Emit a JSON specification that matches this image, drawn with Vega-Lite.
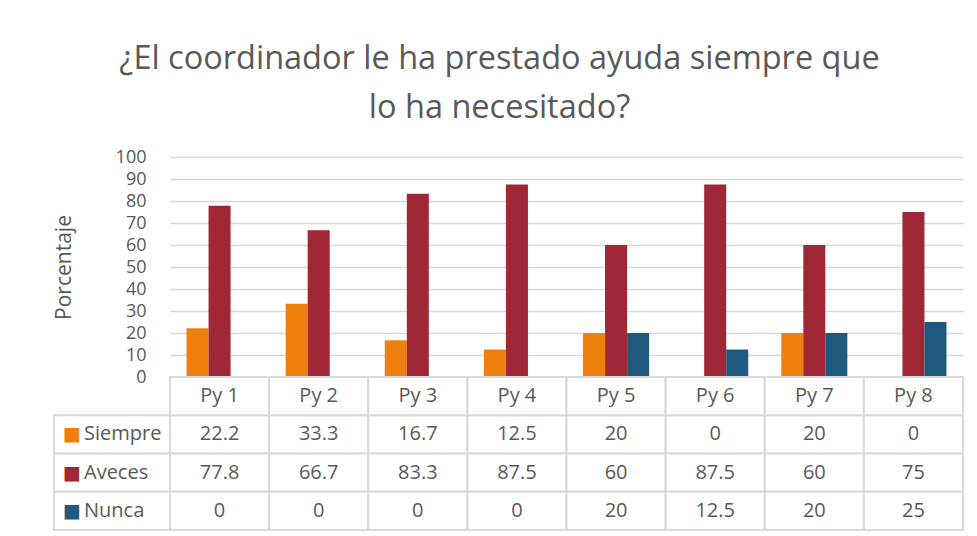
{
  "$schema": "https://vega.github.io/schema/vega-lite/v6.json",
  "padding": {"left": 53, "top": 42, "right": 10, "bottom": 4},
  "background": "white",
  "title": {
    "text": ["¿El coordinador le ha prestado ayuda siempre que", "lo ha necesitado?"],
    "font": "Open Sans",
    "fontSize": 32.5,
    "fontWeight": "normal",
    "color": "#595959",
    "anchor": "middle",
    "lineHeight": 49,
    "offset": 24,
    "dx": -9
  },
  "datasets": {
    "main": [
      {"cat": "Py 1", "serie": "Siempre", "value": 22.2},
      {"cat": "Py 1", "serie": "Aveces", "value": 77.8},
      {"cat": "Py 1", "serie": "Nunca", "value": 0},
      {"cat": "Py 2", "serie": "Siempre", "value": 33.3},
      {"cat": "Py 2", "serie": "Aveces", "value": 66.7},
      {"cat": "Py 2", "serie": "Nunca", "value": 0},
      {"cat": "Py 3", "serie": "Siempre", "value": 16.7},
      {"cat": "Py 3", "serie": "Aveces", "value": 83.3},
      {"cat": "Py 3", "serie": "Nunca", "value": 0},
      {"cat": "Py 4", "serie": "Siempre", "value": 12.5},
      {"cat": "Py 4", "serie": "Aveces", "value": 87.5},
      {"cat": "Py 4", "serie": "Nunca", "value": 0},
      {"cat": "Py 5", "serie": "Siempre", "value": 20},
      {"cat": "Py 5", "serie": "Aveces", "value": 60},
      {"cat": "Py 5", "serie": "Nunca", "value": 20},
      {"cat": "Py 6", "serie": "Siempre", "value": 0},
      {"cat": "Py 6", "serie": "Aveces", "value": 87.5},
      {"cat": "Py 6", "serie": "Nunca", "value": 12.5},
      {"cat": "Py 7", "serie": "Siempre", "value": 20},
      {"cat": "Py 7", "serie": "Aveces", "value": 60},
      {"cat": "Py 7", "serie": "Nunca", "value": 20},
      {"cat": "Py 8", "serie": "Siempre", "value": 0},
      {"cat": "Py 8", "serie": "Aveces", "value": 75},
      {"cat": "Py 8", "serie": "Nunca", "value": 25}
    ],
    "cats": [
      {"cat": "Py 1"}, {"cat": "Py 2"}, {"cat": "Py 3"}, {"cat": "Py 4"},
      {"cat": "Py 5"}, {"cat": "Py 6"}, {"cat": "Py 7"}, {"cat": "Py 8"}
    ],
    "series": [
      {"serie": "Siempre"}, {"serie": "Aveces"}, {"serie": "Nunca"}
    ]
  },
  "columns": 2,
  "spacing": 0,
  "bounds": "flush",
  "resolve": {"scale": {"x": "independent", "y": "independent"}},
  "concat": [
    {
      "width": 116,
      "height": 220,
      "data": {"values": [{}]},
      "mark": {"type": "text", "text": ""},
      "encoding": {}
    },
    {
      "width": 793,
      "height": 220,
      "data": {"name": "main"},
      "mark": {"type": "bar"},
      "encoding": {
        "x": {
          "field": "cat",
          "type": "nominal",
          "sort": null,
          "axis": null,
          "scale": {"paddingInner": 0.3333, "paddingOuter": 0.1667}
        },
        "xOffset": {
          "field": "serie",
          "type": "nominal",
          "sort": ["Siempre", "Aveces", "Nunca"],
          "scale": {"domain": ["Siempre", "Aveces", "Nunca"], "paddingInner": 0, "paddingOuter": 0}
        },
        "y": {
          "field": "value",
          "type": "quantitative",
          "scale": {"domain": [0, 100], "nice": false},
          "axis": {
            "values": [0, 10, 20, 30, 40, 50, 60, 70, 80, 90, 100],
            "title": "Porcentaje",
            "titleFont": "Open Sans",
            "titleFontSize": 21,
            "titleFontWeight": "normal",
            "titleColor": "#595959",
            "titlePadding": 41,
            "labelFont": "Open Sans",
            "labelFontSize": 18,
            "labelColor": "#595959",
            "labelPadding": 24,
            "ticks": false,
            "domain": false,
            "gridColor": "#D9D9D9",
            "gridWidth": 1.5
          }
        },
        "color": {
          "field": "serie",
          "type": "nominal",
          "legend": null,
          "scale": {"domain": ["Siempre", "Aveces", "Nunca"], "range": ["#F0800E", "#A02836", "#1F5A7E"]}
        }
      }
    },
    {
      "width": 116,
      "height": 153,
      "data": {"name": "series"},
      "encoding": {
        "y": {
          "field": "serie",
          "type": "nominal",
          "axis": null,
          "scale": {"domain": ["hdr", "Siempre", "Aveces", "Nunca"], "paddingInner": 0, "paddingOuter": 0}
        }
      },
      "layer": [
        {
          "mark": {"type": "rect", "fill": "white", "stroke": "#D9D9D9", "strokeWidth": 2}
        },
        {
          "mark": {"type": "text", "text": "■", "font": "DejaVu Sans", "fontSize": 19, "align": "center", "dx": -40, "baseline": "middle"},
          "encoding": {
            "color": {
              "field": "serie",
              "type": "nominal",
              "legend": null,
              "scale": {"domain": ["Siempre", "Aveces", "Nunca"], "range": ["#F0800E", "#A02836", "#1F5A7E"]}
            }
          }
        },
        {
          "mark": {"type": "text", "font": "Open Sans", "fontSize": 20, "color": "#595959", "align": "left", "dx": -28, "baseline": "middle"},
          "encoding": {"text": {"field": "serie", "type": "nominal"}}
        }
      ]
    },
    {
      "width": 793,
      "height": 153,
      "encoding": {
        "x": {"field": "cat", "type": "nominal", "sort": null, "axis": null, "scale": {"domain": ["Py 1", "Py 2", "Py 3", "Py 4", "Py 5", "Py 6", "Py 7", "Py 8"], "paddingInner": 0, "paddingOuter": 0}},
        "y": {"field": "serie", "type": "nominal", "axis": null, "scale": {"domain": ["hdr", "Siempre", "Aveces", "Nunca"], "paddingInner": 0, "paddingOuter": 0}}
      },
      "layer": [
        {
          "data": {"name": "main"},
          "mark": {"type": "rect", "fill": "white", "stroke": "#D9D9D9", "strokeWidth": 2}
        },
        {
          "data": {"name": "cats"},
          "mark": {"type": "rect", "fill": "white", "stroke": "#D9D9D9", "strokeWidth": 2},
          "encoding": {"y": {"datum": "hdr", "type": "nominal"}}
        },
        {
          "data": {"name": "main"},
          "mark": {"type": "text", "font": "Open Sans", "fontSize": 20, "color": "#595959", "baseline": "middle"},
          "encoding": {"text": {"field": "value", "type": "quantitative"}}
        },
        {
          "data": {"name": "cats"},
          "mark": {"type": "text", "font": "Open Sans", "fontSize": 20, "color": "#595959", "baseline": "middle"},
          "encoding": {"y": {"datum": "hdr", "type": "nominal"}, "text": {"field": "cat", "type": "nominal"}}
        }
      ]
    }
  ],
  "config": {
    "view": {"stroke": null},
    "font": "Open Sans"
  }
}
